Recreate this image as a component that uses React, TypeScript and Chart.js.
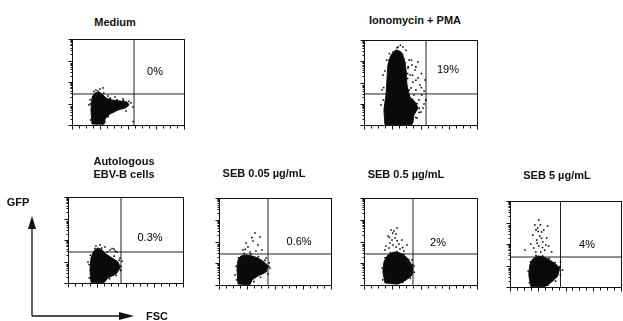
import React, { useEffect, useRef } from "react";
import { Chart, registerables } from "chart.js";
Chart.register(...registerables);

type Pt = [number, number];

// ---- data (FSC channel 0-1024 linear, GFP channel 0-1024 = 4 log decades) ----
const panelTitles: string[][] = [
  ["Medium"],
  ["Ionomycin + PMA"],
  ["Autologous", "EBV-B cells"],
  ["SEB 0.05 µg/mL"],
  ["SEB 0.5 µg/mL"],
  ["SEB 5 µg/mL"],
];
const quadrantPercents = ["0%", "19%", "0.3%", "0.6%", "2%", "4%"];
const gateFSC = [567, 562, 472, 448, 444, 466];
const gateGFP = [369, 374, 369, 365, 365, 357];

const fscTicks = [0, 64, 128, 192, 256, 320, 384, 448, 512, 576, 640, 704, 768, 832, 896, 960, 1024];
const gfpDecades = [1, 10, 100, 1000];
const gfpMinor = [1, 2, 3, 4, 5, 6, 7, 8, 9];

const cloudMedium: Pt[] = [
  [183, 12], [174, 179], [183, 321], [210, 381], [247, 393], [274, 369], [311, 321], [366, 298],
  [439, 286], [503, 274], [521, 238], [485, 202], [421, 179], [347, 131], [302, 71], [293, 12],
];
const dotsMedium: Pt[] = [
  [219, 417], [256, 428], [238, 405], [329, 345], [393, 333], [466, 310], [539, 262], [494, 167],
  [375, 155], [155, 238], [558, 214], [560, 40], [283, 440], [165, 300], [430, 190], [520, 280],
  [170, 60], [168, 250], [200, 400], [290, 380], [350, 320], [410, 300], [470, 295], [505, 250],
  [450, 200], [380, 160], [330, 100], [300, 40], [190, 340],
];

const cloudIono: Pt[] = [
  [190, 5], [181, 181], [199, 362], [208, 542], [217, 723], [245, 844], [290, 904], [335, 880],
  [362, 807], [381, 663], [390, 482], [417, 337], [462, 277], [489, 205], [453, 121], [435, 5],
];
const dotsIono: Pt[] = [
  [408, 783], [435, 723], [462, 663], [417, 603], [489, 566], [444, 518], [507, 482], [471, 422],
  [525, 362], [498, 301], [544, 253], [516, 157], [399, 687], [426, 446], [353, 940], [308, 940],
  [263, 880], [227, 783], [172, 603], [163, 422], [154, 241], [480, 84], [535, 205], [453, 362],
  [371, 398], [489, 759], [553, 542], [408, 241], [380, 900], [520, 620], [470, 700], [440, 600],
  [500, 200], [560, 300], [330, 960], [175, 300], [178, 450], [190, 650], [205, 780], [230, 860],
  [300, 930], [350, 850], [375, 750], [395, 560], [410, 420], [440, 310], [480, 260], [500, 150],
  [470, 90], [440, 40], [420, 130], [400, 700], [430, 780], [520, 450], [545, 410], [470, 540],
  [395, 620],
];

const cloudEBV: Pt[] = [
  [205, 5], [196, 155], [205, 298], [231, 381], [267, 417], [303, 393], [338, 345], [392, 298],
  [445, 250], [463, 179], [427, 107], [356, 60], [320, 5],
];
const dotsEBV: Pt[] = [
  [285, 452], [329, 428], [409, 405], [436, 369], [374, 393], [249, 440], [463, 298], [178, 250],
  [392, 410], [420, 380], [480, 260], [470, 200], [190, 60], [188, 220], [200, 330], [240, 410],
  [300, 415], [350, 370], [410, 320], [455, 270], [470, 150], [430, 90], [370, 50],
];

const cloudSEB005: Pt[] = [
  [174, 12], [165, 177], [174, 294], [201, 341], [247, 353], [302, 341], [356, 318], [411, 271],
  [448, 224], [430, 153], [356, 106], [302, 59], [283, 5],
];
const dotsSEB005: Pt[] = [
  [329, 612], [375, 565], [265, 447], [219, 412], [311, 518], [356, 471], [393, 412], [283, 388],
  [338, 400], [247, 494], [430, 318], [466, 200], [146, 118], [300, 560], [240, 420], [460, 260],
  [160, 60], [158, 220], [180, 320], [230, 370], [290, 365], [360, 335], [420, 290], [455, 220],
  [445, 130], [380, 90], [320, 40],
];

const cloudSEB05: Pt[] = [
  [190, 24], [172, 153], [181, 271], [217, 353], [272, 388], [326, 377], [381, 330], [417, 271],
  [444, 200], [435, 118], [381, 59], [308, 12],
];
const dotsSEB05: Pt[] = [
  [245, 647], [272, 636], [290, 600], [281, 553], [254, 530], [236, 494], [263, 471], [290, 447],
  [227, 435], [199, 459], [317, 483], [344, 530], [217, 577], [190, 412], [326, 424], [362, 400],
  [390, 471], [299, 671], [435, 294], [453, 224], [260, 610], [300, 520], [230, 560], [350, 440],
  [170, 60], [165, 200], [190, 320], [240, 380], [300, 395], [360, 360], [405, 300], [440, 240],
  [455, 150], [420, 80], [350, 30],
];

const cloudSEB5: Pt[] = [
  [192, 5], [174, 143], [183, 262], [210, 333], [256, 369], [311, 357], [366, 321], [420, 274],
  [457, 226], [439, 131], [384, 60], [320, 5],
];
const dotsSEB5: Pt[] = [
  [229, 738], [256, 702], [292, 655], [274, 607], [247, 559], [302, 536], [265, 488], [219, 464],
  [320, 440], [283, 417], [338, 583], [210, 619], [356, 488], [238, 417], [311, 678], [192, 512],
  [384, 417], [347, 726], [265, 797], [466, 298], [484, 202], [137, 440], [260, 660], [290, 580],
  [250, 520], [300, 470], [330, 500], [280, 740], [240, 680], [180, 50], [168, 190], [190, 300],
  [240, 375], [300, 370], [360, 340], [415, 290], [460, 240], [465, 140], [420, 70], [350, 20],
];

const clouds = [cloudMedium, cloudIono, cloudEBV, cloudSEB005, cloudSEB05, cloudSEB5];
const dots = [dotsMedium, dotsIono, dotsEBV, dotsSEB005, dotsSEB05, dotsSEB5];

// ---- layout (page pixels) ----
const boxes = [
  { l: 72, t: 39, r: 184, b: 125, title: { x: 115, y: 22 }, pct: { x: 155, y: 71 } },
  { l: 364, t: 40, r: 477, b: 125, title: { x: 415, y: 20 }, pct: { x: 448, y: 69 } },
  { l: 68, t: 197, r: 183, b: 283, title: { x: 124, y: 168 }, pct: { x: 150, y: 237 } },
  { l: 219, t: 198, r: 331, b: 285, title: { x: 264, y: 173 }, pct: { x: 299, y: 241 } },
  { l: 364, t: 198, r: 477, b: 285, title: { x: 406, y: 174 }, pct: { x: 438, y: 242 } },
  { l: 510, t: 201, r: 621, b: 287, title: { x: 557, y: 175 }, pct: { x: 587, y: 244 } },
];
const PAD = 10;
const FONT = '"Liberation Sans", Arial, sans-serif';

const facsFrame = {
  id: "facsFrame",
  afterDatasetsDraw(chart: any) {
    const { ctx, chartArea: a, scales } = chart;
    const x = scales.x;
    const y = scales.y;
    ctx.save();
    ctx.strokeStyle = "#111";
    ctx.lineWidth = 1;
    const L = Math.round(a.left) + 0.5;
    const T = Math.round(a.top) + 0.5;
    const R = Math.round(a.right) + 0.5;
    const B = Math.round(a.bottom) + 0.5;
    ctx.strokeRect(L, T, R - L, B - T);
    ctx.beginPath();
    for (const v of fscTicks) {
      const px = Math.round(x.getPixelForValue(v)) + 0.5;
      const len = v % 256 === 0 ? 4 : 3;
      ctx.moveTo(px, B);
      ctx.lineTo(px, B + len);
    }
    for (const d of gfpDecades) {
      for (const m of gfpMinor) {
        const ch = 256 * Math.log10(d * m);
        const py = Math.round(y.getPixelForValue(ch)) + 0.5;
        const len = m === 1 ? 4 : 2;
        ctx.moveTo(L, py);
        ctx.lineTo(L - len, py);
      }
    }
    const pyTop = Math.round(y.getPixelForValue(1024)) + 0.5;
    ctx.moveTo(L, pyTop);
    ctx.lineTo(L - 4, pyTop);
    ctx.stroke();
    ctx.restore();
  },
};

function Panel({ i }: { i: number }) {
  const ref = useRef<HTMLCanvasElement>(null);
  const bx = boxes[i];
  const w = bx.r - bx.l + PAD * 2;
  const h = bx.b - bx.t + PAD * 2;
  useEffect(() => {
    if (!ref.current) return;
    const toXY = (p: Pt) => ({ x: p[0], y: p[1] });
    const cloud = clouds[i].map(toXY);
    cloud.push(toXY(clouds[i][0]));
    const chart = new Chart(ref.current, {
      type: "scatter",
      data: {
        datasets: [
          {
            data: cloud,
            showLine: true,
            fill: "shape",
            backgroundColor: "#0a0a0a",
            borderColor: "#0a0a0a",
            borderWidth: 1,
            pointRadius: 0,
            tension: 0.12,
          } as any,
          {
            data: dots[i].map(toXY),
            showLine: false,
            pointRadius: 1.1,
            pointStyle: "rect",
            backgroundColor: "#000",
            borderWidth: 0,
          },
          {
            data: [{ x: gateFSC[i], y: 0 }, { x: gateFSC[i], y: 1024 }],
            showLine: true,
            borderColor: "#222",
            borderWidth: 1,
            pointRadius: 0,
          },
          {
            data: [{ x: 0, y: gateGFP[i] }, { x: 1024, y: gateGFP[i] }],
            showLine: true,
            borderColor: "#222",
            borderWidth: 1,
            pointRadius: 0,
          },
        ],
      },
      options: {
        animation: false,
        responsive: false,
        events: [],
        layout: { padding: PAD },
        plugins: { legend: { display: false }, tooltip: { enabled: false } },
        scales: {
          x: { type: "linear", min: 0, max: 1024, display: false },
          y: { type: "linear", min: 0, max: 1024, display: false },
        },
      },
      plugins: [facsFrame],
    });
    return () => chart.destroy();
  }, [i]);
  return (
    <>
      <canvas
        ref={ref}
        width={w}
        height={h}
        style={{ position: "absolute", left: bx.l - PAD, top: bx.t - PAD, width: w, height: h }}
      />
      <div
        style={{
          position: "absolute",
          left: bx.title.x,
          top: bx.title.y,
          transform: "translate(-50%, -50%)",
          font: `bold 11px ${FONT}`,
          textAlign: "center",
          whiteSpace: "nowrap",
          lineHeight: "13px",
          color: "#111",
        }}
      >
        {panelTitles[i].map((t, k) => (
          <div key={k}>{t}</div>
        ))}
      </div>
      <div
        style={{
          position: "absolute",
          left: bx.pct.x,
          top: bx.pct.y,
          transform: "translate(-50%, -50%)",
          font: `11px ${FONT}`,
          whiteSpace: "nowrap",
          color: "#000",
        }}
      >
        {quadrantPercents[i]}
      </div>
    </>
  );
}

export default function App() {
  return (
    <div
      style={{
        position: "absolute",
        left: 0,
        top: 0,
        width: 623,
        height: 321,
        overflow: "hidden",
        background: "#fff",
      }}
    >
      {boxes.map((_, i) => (
        <Panel key={i} i={i} />
      ))}
      <svg width={623} height={321} style={{ position: "absolute", left: 0, top: 0 }}>
        <line x1={32} y1={316} x2={32} y2={226} stroke="#111" strokeWidth={1.3} />
        <polygon points="32,216 28,229 36,229" fill="#111" />
        <line x1={32} y1={316} x2={122} y2={316} stroke="#111" strokeWidth={1.3} />
        <polygon points="134,316 119,312 119,320" fill="#111" />
      </svg>
      <div style={{ position: "absolute", left: 18, top: 202, transform: "translate(-50%, -50%)", font: `bold 11px ${FONT}`, color: "#111" }}>
        GFP
      </div>
      <div style={{ position: "absolute", left: 157, top: 316, transform: "translate(-50%, -50%)", font: `bold 11px ${FONT}`, color: "#111" }}>
        FSC
      </div>
    </div>
  );
}
